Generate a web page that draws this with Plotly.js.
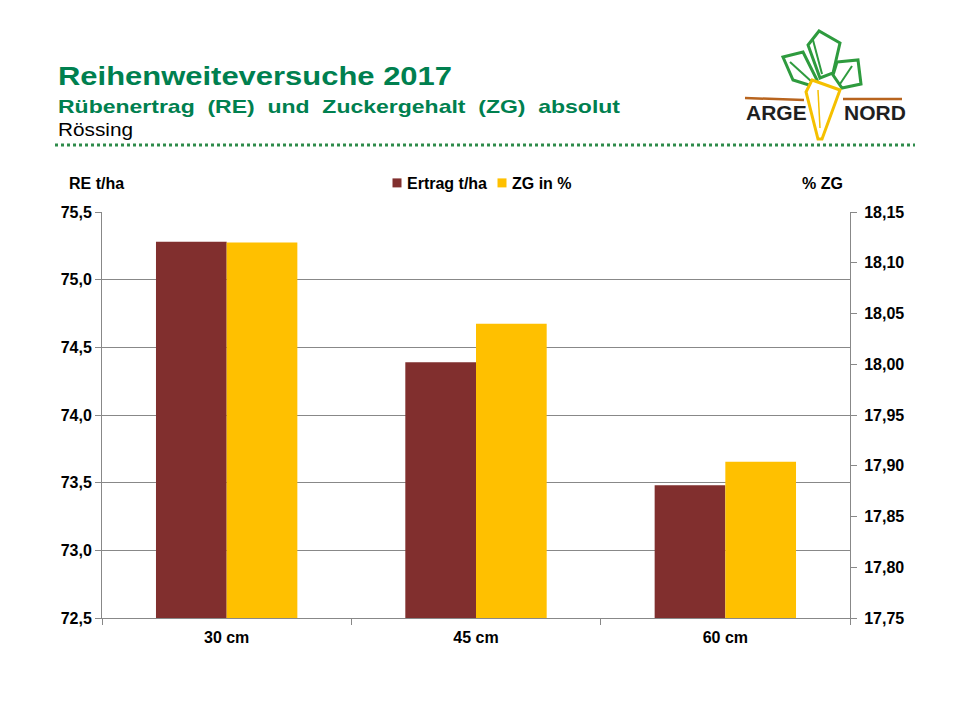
<!DOCTYPE html>
<html>
<head>
<meta charset="utf-8">
<script src="https://cdn.plot.ly/plotly-3.0.1.min.js"></script>
<style>html,body{margin:0;padding:0;background:#fff;}#chart{width:960px;height:720px;}</style>
</head>
<body>
<div id="chart"></div>
<script>
// ---- data ----
var categories = ["30 cm", "45 cm", "60 cm"];
var ertrag = [75.28, 74.39, 73.48];        // RE t/ha (left axis)
var zuckergehalt = [18.12, 18.04, 17.904]; // ZG in % (right axis)
var seriesNames = ["Ertrag t/ha", "ZG in %"];

// ---- geometry helpers (pixel -> paper) ----
var L = 102, R = 850, T = 212, B = 618;
function px(x) { return (x - L) / (R - L); }
function py(y) { return (B - y) / (B - T); }
function path(pts, close) {
  var s = pts.map(function (p, i) { return (i ? "L" : "M") + px(p[0]).toFixed(4) + "," + py(p[1]).toFixed(4); }).join(" ");
  return s + (close ? " Z" : "");
}

var FONT = "Liberation Sans, Arial, sans-serif";
var green = "#00804F";

var traces = [
  { type: "bar", name: seriesNames[0], x: categories, y: ertrag, yaxis: "y", offsetgroup: "1",
    marker: { color: "#812F2E" }, hoverinfo: "y" },
  { type: "bar", name: seriesNames[1], x: categories, y: zuckergehalt, yaxis: "y2", offsetgroup: "2",
    marker: { color: "#FFC000" }, hoverinfo: "y" }
];

var leafColor = "#2E9B3E";
var shapes = [
  // dotted separator line
  { type: "line", xref: "paper", yref: "paper", x0: px(55), x1: px(915), y0: py(145), y1: py(145),
    line: { color: "#2E8B4A", width: 3, dash: "dot" } },
  // logo: leaves
  { type: "path", xref: "paper", yref: "paper", path: path([[808,45],[819,31],[840,43],[833,73],[820,78]], true),
    line: { color: leafColor, width: 3 }, fillcolor: "rgba(0,0,0,0)" },
  { type: "path", xref: "paper", yref: "paper", path: path([[783,57],[803,52],[817,80],[812,86],[793,80]], true),
    line: { color: leafColor, width: 3 }, fillcolor: "rgba(0,0,0,0)" },
  { type: "path", xref: "paper", yref: "paper", path: path([[837,62],[858,60],[861,84],[842,88],[833,75]], true),
    line: { color: leafColor, width: 3 }, fillcolor: "rgba(0,0,0,0)" },
  { type: "path", xref: "paper", yref: "paper", path: path([[813,40],[822,74]], false),
    line: { color: leafColor, width: 2 } },
  { type: "path", xref: "paper", yref: "paper", path: path([[790,62],[812,82]], false),
    line: { color: leafColor, width: 2 } },
  { type: "path", xref: "paper", yref: "paper", path: path([[852,66],[840,84]], false),
    line: { color: leafColor, width: 2 } },
  // brown ground lines
  { type: "line", xref: "paper", yref: "paper", x0: px(745), x1: px(804), y0: py(98), y1: py(100),
    line: { color: "#B8641E", width: 2.5 } },
  { type: "line", xref: "paper", yref: "paper", x0: px(843), x1: px(902), y0: py(99), y1: py(99),
    line: { color: "#B8641E", width: 2.5 } },
  // carrot
  { type: "path", xref: "paper", yref: "paper", path: path([[812,80],[840,90],[822,139],[818,139],[806,92]], true),
    line: { color: "#F5C000", width: 3 }, fillcolor: "#ffffff" },
  { type: "path", xref: "paper", yref: "paper", path: path([[818,90],[820,128]], false),
    line: { color: "#F5C000", width: 1.5 } }
];

function ann(text, x, y, size, color, bold, xanchor) {
  return { xref: "paper", yref: "paper", x: px(x), y: py(y), xanchor: xanchor || "left", yanchor: "middle",
    showarrow: false, text: bold ? "<b>" + text + "</b>" : text,
    font: { family: FONT, size: size, color: color } };
}

var annotations = [
  ann("Reihenweiteversuche 2017", 56, 76, 26, green, true),
  ann("Rübenertrag  (RE)  und  Zuckergehalt  (ZG)  absolut", 56, 106, 19, green, true),
  ann("Rössing", 56, 130, 18, "#000", false),
  ann("RE t/ha", 67, 183, 16, "#000", true),
  ann("% ZG", 845, 183, 16, "#000", true, "right"),
  ann("ARGE", 744, 113, 21, "#1f1f1f", true),
  ann("NORD", 842, 113, 21, "#1f1f1f", true)
];
// target left edge and width (px) of the horizontally stretched title lines
var stretch = [[0, 58, 394], [1, 58, 562], [2, 58, 75]];

var tickFont = { family: FONT, size: 16, weight: "bold", color: "#000" };
var layout = {
  width: 960, height: 720,
  margin: { l: L, r: 960 - R, t: T, b: 720 - B, pad: 0 },
  paper_bgcolor: "#fff", plot_bgcolor: "#fff",
  separators: ",.",
  barmode: "group", bargap: 0.433, bargroupgap: 0,
  font: { family: FONT, size: 14, color: "#000" },
  showlegend: true,
  legend: { orientation: "h", x: px(367), xanchor: "left", y: py(183), yanchor: "middle",
    font: { family: FONT, size: 16, color: "#000", weight: "bold" }, itemwidth: 30, tracegroupgap: 0,
    entrywidth: 60, entrywidthmode: "pixels",
    bgcolor: "rgba(0,0,0,0)" },
  xaxis: {
    type: "category", showgrid: false, zeroline: false,
    showline: true, linecolor: "#888", linewidth: 1,
    ticks: "outside", tickson: "boundaries", ticklen: 6, tickcolor: "#888",
    ticklabelstandoff: 5,
    tickfont: tickFont
  },
  yaxis: {
    range: [72.5, 75.5], dtick: 0.5, tick0: 72.5, tickformat: ".1f",
    showgrid: true, gridcolor: "#888", gridwidth: 1, zeroline: false,
    showline: true, linecolor: "#888", linewidth: 1,
    ticks: "outside", ticklen: 6, tickcolor: "#888",
    tickfont: tickFont
  },
  yaxis2: {
    overlaying: "y", side: "right",
    range: [17.75, 18.15], dtick: 0.05, tick0: 17.75, tickformat: ".2f",
    showgrid: false, zeroline: false,
    showline: true, linecolor: "#888", linewidth: 1,
    ticks: "outside", ticklen: 6, tickcolor: "#888",
    ticklabelstandoff: 4,
    tickfont: tickFont
  },
  shapes: shapes,
  annotations: annotations
};

Plotly.newPlot("chart", traces, layout, { displayModeBar: false, staticPlot: true }).then(function (gd) {
  var gdRect = gd.getBoundingClientRect();
  var texts = gd.querySelectorAll("g.annotation text.annotation-text");
  stretch.forEach(function (s) {
    var t = texts[s[0]];
    if (!t) return;
    var bb = t.getBBox();
    var rect = t.getBoundingClientRect();
    var delta = s[1] - (rect.left - gdRect.left);
    t.setAttribute("text-anchor", "start");
    t.setAttribute("x", bb.x + delta);
    t.setAttribute("textLength", s[2]);
    t.setAttribute("lengthAdjust", "spacingAndGlyphs");
  });
  // smaller legend squares placed close to their labels, as in the original
  gd.querySelectorAll("g.legend g.legendpoints").forEach(function (g) {
    var tr = g.getAttribute("transform") || "";
    g.setAttribute("transform", tr + " translate(15,0) scale(0.75)");
  });
});
</script>
</body>
</html>
